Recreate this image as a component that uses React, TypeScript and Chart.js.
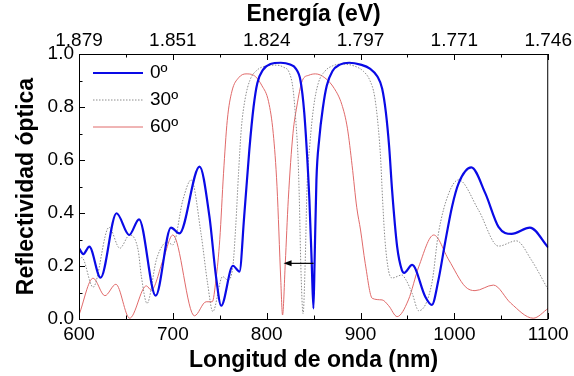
import React, { useEffect, useRef } from "react";
import { Chart, registerables } from "chart.js";
Chart.register(...registerables);

// ---- Data ----
const seriesLabels = ["0º", "30º", "60º"];

const wl0 = [600, 604.6, 611, 623, 640, 653.5, 664, 681.7, 698, 707, 728.5, 739, 746, 751.5, 764, 771, 776, 781.5, 786, 790, 796, 804, 815, 825, 831, 836, 840, 843, 845.5, 848, 849.8, 851, 853, 856, 860, 864, 870, 878, 888, 900, 910, 918, 923, 927, 930.5, 933.6, 939, 944, 946.5, 955, 969, 976, 983, 990, 997.5, 1004.5, 1018, 1033, 1047, 1061, 1080.5, 1100];
const r0 = [0.267, 0.245, 0.273, 0.156, 0.399, 0.317, 0.376, 0.088, 0.345, 0.323, 0.575, 0.386, 0.16, 0.05, 0.201, 0.179, 0.386, 0.638, 0.8, 0.89, 0.94, 0.962, 0.967, 0.96, 0.945, 0.9, 0.78, 0.62, 0.45, 0.21, 0.04, 0.21, 0.525, 0.68, 0.8, 0.88, 0.935, 0.96, 0.967, 0.96, 0.945, 0.915, 0.87, 0.78, 0.65, 0.487, 0.273, 0.185, 0.174, 0.204, 0.084, 0.053, 0.147, 0.286, 0.424, 0.512, 0.572, 0.474, 0.348, 0.321, 0.345, 0.27];

const wl30 = [600, 603, 615, 632, 643.5, 654, 663, 666.5, 672.5, 682.4, 689.6, 694, 700, 710.7, 719.6, 730, 737, 742.6, 753, 758.5, 764, 767, 770, 773, 777, 782, 790, 800, 810, 818, 824, 828, 831, 833.5, 835, 836.3, 838.8, 841, 843, 846, 850, 855, 862, 870, 880, 893, 903, 910, 915, 919, 921.5, 923.5, 926, 930, 934, 944, 948, 955, 962, 976, 983, 994, 1004.5, 1025.7, 1047, 1066, 1082, 1100];
const r30 = [0.223, 0.232, 0.12, 0.346, 0.267, 0.317, 0.26, 0.16, 0.059, 0.223, 0.28, 0.29, 0.28, 0.449, 0.525, 0.323, 0.135, 0.028, 0.16, 0.147, 0.2, 0.35, 0.55, 0.72, 0.83, 0.9, 0.94, 0.955, 0.958, 0.95, 0.93, 0.87, 0.75, 0.6, 0.42, 0.21, 0.02, 0.21, 0.5, 0.66, 0.8, 0.89, 0.935, 0.955, 0.962, 0.955, 0.935, 0.9, 0.84, 0.72, 0.6, 0.45, 0.3, 0.18, 0.155, 0.166, 0.15, 0.097, 0.031, 0.135, 0.323, 0.474, 0.525, 0.411, 0.275, 0.295, 0.223, 0.11];

const wl60 = [600, 615, 627.6, 639.3, 654, 671.8, 677, 689.6, 700, 723, 735.5, 742, 746, 750, 754, 758, 763, 770, 778, 786, 795, 802, 807, 811, 815, 816.9, 819.8, 823, 828, 832, 838, 845, 852, 862, 872, 880, 886, 891, 896, 900, 905, 912.5, 923, 930, 939, 951, 962, 978, 994, 1011.6, 1022, 1041.6, 1060, 1084, 1100];
const r60 = [0.015, 0.154, 0.088, 0.131, 0.003, 0.125, 0.109, 0.223, 0.317, 0.012, 0.065, 0.065, 0.15, 0.3, 0.55, 0.75, 0.86, 0.91, 0.925, 0.92, 0.88, 0.82, 0.7, 0.5, 0.147, 0.015, 0.21, 0.45, 0.7, 0.8, 0.9, 0.92, 0.925, 0.91, 0.87, 0.81, 0.72, 0.58, 0.42, 0.336, 0.21, 0.078, 0.072, 0.05, 0.009, 0.072, 0.197, 0.317, 0.223, 0.122, 0.107, 0.128, 0.06, 0.003, 0.04];

const xTicks = [600, 700, 800, 900, 1000, 1100];
const xMinorTicks = [650, 750, 850, 950, 1050];
const energyLabels = ["1.879", "1.851", "1.824", "1.797", "1.771", "1.746"];
const yTicks = [0, 0.2, 0.4, 0.6, 0.8, 1.0];
const yMinorTicks = [0.1, 0.3, 0.5, 0.7, 0.9];

// arrow annotation: from (850, 0.21) to (818, 0.21)
const arrowFromX = 850;
const arrowToX = 818;
const arrowY = 0.21;

const FAMILY = "'Liberation Sans', Arial, sans-serif";
const tickFont = { family: FAMILY, size: 19 };
const titleFont = { family: FAMILY, size: 23, weight: "bold" as const };

const colors = ["#0a0ae6", "#8c8c8c", "#e06a6a"];
const widths = [2.2, 1, 1];
const dashes: number[][] = [[], [1.5, 1.5], []];

const framePlugin = {
  id: "framePlugin",
  afterDatasetsDraw(chart: any) {
    const { ctx, chartArea: a, scales } = chart;
    const xs = scales.x;
    const ys = scales.y;
    ctx.save();
    ctx.strokeStyle = "#000";
    ctx.lineWidth = 1;
    ctx.setLineDash([]);
    ctx.strokeRect(a.left + 0.5, a.top + 0.5, a.right - a.left - 1, a.bottom - a.top);
    ctx.beginPath();
    const major = 6, minor = 3.5;
    xTicks.forEach((v) => {
      const p = Math.round(xs.getPixelForValue(v)) + 0.5;
      ctx.moveTo(p, a.bottom); ctx.lineTo(p, a.bottom - major);
      ctx.moveTo(p, a.top); ctx.lineTo(p, a.top + major);
    });
    xMinorTicks.forEach((v) => {
      const p = Math.round(xs.getPixelForValue(v)) + 0.5;
      ctx.moveTo(p, a.bottom); ctx.lineTo(p, a.bottom - minor);
      ctx.moveTo(p, a.top); ctx.lineTo(p, a.top + minor);
    });
    yTicks.forEach((v) => {
      const p = Math.round(ys.getPixelForValue(v)) + 0.5;
      ctx.moveTo(a.left, p); ctx.lineTo(a.left + major, p);
    });
    yMinorTicks.forEach((v) => {
      const p = Math.round(ys.getPixelForValue(v)) + 0.5;
      ctx.moveTo(a.left, p); ctx.lineTo(a.left + minor, p);
    });
    ctx.stroke();

    // arrow
    const ax1 = xs.getPixelForValue(arrowFromX);
    const ax2 = xs.getPixelForValue(arrowToX);
    const ay = ys.getPixelForValue(arrowY);
    ctx.lineWidth = 1.2;
    ctx.beginPath();
    ctx.moveTo(ax1, ay);
    ctx.lineTo(ax2 + 6, ay);
    ctx.stroke();
    ctx.fillStyle = "#000";
    ctx.beginPath();
    ctx.moveTo(ax2, ay);
    ctx.lineTo(ax2 + 8, ay - 3);
    ctx.lineTo(ax2 + 8, ay + 3);
    ctx.closePath();
    ctx.fill();

    // legend
    const lx1 = a.left + 14, lx2 = a.left + 64, ly0 = a.top + 19, dy = 27;
    chart.data.datasets.forEach((ds: any, i: number) => {
      const y = ly0 + i * dy;
      ctx.strokeStyle = ds.borderColor;
      ctx.lineWidth = ds.borderWidth;
      ctx.setLineDash(ds.borderDash || []);
      ctx.beginPath();
      ctx.moveTo(lx1, y);
      ctx.lineTo(lx2, y);
      ctx.stroke();
      ctx.setLineDash([]);
      ctx.fillStyle = "#000";
      ctx.font = `19px ${FAMILY}`;
      ctx.textAlign = "left";
      ctx.textBaseline = "middle";
      ctx.fillText(ds.label, lx2 + 7, y);
    });
    ctx.restore();
  },
};

export default function App() {
  const ref = useRef<HTMLCanvasElement | null>(null);
  useEffect(() => {
    if (!ref.current) return;
    const series = [
      { wl: wl0, r: r0 },
      { wl: wl30, r: r30 },
      { wl: wl60, r: r60 },
    ];
    const chart = new Chart(ref.current, {
      type: "line",
      data: {
        datasets: series.map((s, i) => ({
          label: seriesLabels[i],
          data: s.wl.map((x, k) => ({ x, y: s.r[k] })),
          borderColor: colors[i],
          borderWidth: widths[i],
          borderDash: dashes[i],
          pointRadius: 0,
          fill: false,
          cubicInterpolationMode: "monotone" as const,
          xAxisID: "x",
          yAxisID: "y",
        })),
      },
      options: {
        responsive: true,
        maintainAspectRatio: false,
        animation: false,
        layout: { padding: { left: 0, right: 24, top: 0, bottom: 0 } },
        plugins: { legend: { display: false }, tooltip: { enabled: false } },
        scales: {
          x: {
            type: "linear",
            position: "bottom",
            min: 600,
            max: 1100,
            afterBuildTicks: (s: any) => { s.ticks = xTicks.map((v) => ({ value: v })); },
            ticks: { callback: (v: any) => String(v), font: tickFont, color: "#000", padding: 4, maxRotation: 0, autoSkip: false },
            grid: { display: false, drawTicks: false },
            border: { display: false },
            title: { display: true, text: "Longitud de onda (nm)", font: titleFont, color: "#000", padding: { top: 0, bottom: 2 } },
            afterFit: (s: any) => { s.height = 57; },
          },
          x2: {
            type: "linear",
            position: "top",
            min: 600,
            max: 1100,
            afterBuildTicks: (s: any) => { s.ticks = xTicks.map((v) => ({ value: v })); },
            ticks: { callback: (v: any) => energyLabels[xTicks.indexOf(Number(v))], font: tickFont, color: "#000", padding: 2, maxRotation: 0, autoSkip: false },
            grid: { display: false, drawTicks: false },
            border: { display: false },
            title: { display: true, text: "Energía (eV)", font: titleFont, color: "#000", padding: { top: 1, bottom: 0 } },
            afterFit: (s: any) => { s.height = 54; },
          },
          y: {
            type: "linear",
            position: "left",
            min: 0,
            max: 1,
            afterBuildTicks: (s: any) => { s.ticks = yTicks.map((v) => ({ value: v })); },
            ticks: { callback: (v: any) => Number(v).toFixed(1), font: tickFont, color: "#000", padding: 5 },
            grid: { display: false, drawTicks: false },
            border: { display: false },
            title: { display: true, text: "Reflectividad óptica", font: titleFont, color: "#000", padding: { top: 13, bottom: 0 } },
            afterFit: (s: any) => { s.width = 79; },
          },
        },
      },
      plugins: [framePlugin],
    });
    return () => chart.destroy();
  }, []);
  return (
    <div style={{ position: "fixed", left: 0, top: 0, width: 574, height: 376, background: "#fff" }}>
      <canvas ref={ref} />
    </div>
  );
}
